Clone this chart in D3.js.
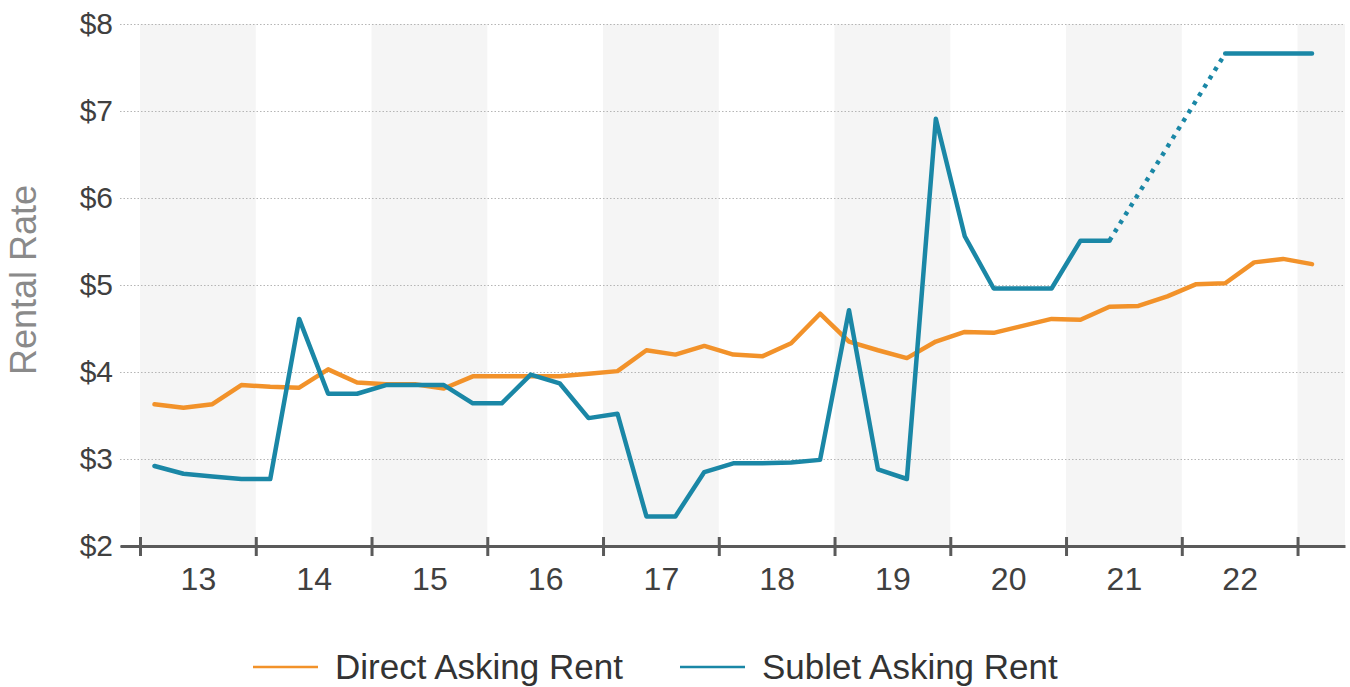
<!DOCTYPE html>
<html>
<head>
<meta charset="utf-8">
<script src="https://cdn.jsdelivr.net/npm/d3@7"></script>
<style>
	body { margin: 0; background: #fff; }
	svg { display: block; font-family: Arial, "Liberation Sans", sans-serif; }
</style>
</head>
<body>
<svg id="chart"></svg>
<script>
// quarterly data, 1Q13 .. 1Q23
var quarters = ["1Q13","2Q13","3Q13","4Q13","1Q14","2Q14","3Q14","4Q14","1Q15","2Q15","3Q15","4Q15",
	"1Q16","2Q16","3Q16","4Q16","1Q17","2Q17","3Q17","4Q17","1Q18","2Q18","3Q18","4Q18",
	"1Q19","2Q19","3Q19","4Q19","1Q20","2Q20","3Q20","4Q20","1Q21","2Q21","3Q21","4Q21",
	"1Q22","2Q22","3Q22","4Q22","1Q23"];

var directRent = [3.63, 3.59, 3.63, 3.85, 3.83, 3.82, 4.03, 3.88, 3.86, 3.86, 3.81, 3.95,
	3.95, 3.95, 3.95, 3.98, 4.01, 4.25, 4.20, 4.30, 4.20, 4.18, 4.33, 4.67,
	4.35, 4.25, 4.16, 4.35, 4.46, 4.45, 4.53, 4.61, 4.60, 4.75, 4.76, 4.87,
	5.01, 5.02, 5.26, 5.30, 5.24];

var subletRent = [2.92, 2.83, 2.80, 2.77, 2.77, 4.61, 3.75, 3.75, 3.85, 3.85, 3.85, 3.64,
	3.64, 3.97, 3.87, 3.47, 3.52, 2.34, 2.34, 2.85, 2.95, 2.95, 2.96, 2.99,
	4.71, 2.88, 2.77, 6.91, 5.56, 4.96, 4.96, 4.96, 5.51, 5.51, null, null,
	null, 7.66, 7.66, 7.66, 7.66];

var yearLabels = ["13","14","15","16","17","18","19","20","21","22"];
var yTicks = [2, 3, 4, 5, 6, 7, 8];

var series = [
	{name: "Direct Asking Rent", values: directRent, color: "#f2922a"},
	{name: "Sublet Asking Rent", values: subletRent, color: "#1a87a6"}
];

var W = 1350, H = 687,
	plotLeft = 120, plotRight = 1345, plotTop = 24, plotBottom = 546,
	firstYear = 2013;

var svg = d3.select("#chart").attr("width", W).attr("height", H);

// year-based x scale, data sits in the middle of each quarter
var x = d3.scaleLinear().domain([2012.827, 2023.41]).range([plotLeft, plotRight]),
	y = d3.scaleLinear().domain([2, 8]).range([plotBottom, plotTop]);

function qx(i) { return x(firstYear + (i + 0.5) / 4); }

// alternating year bands
var bandYears = d3.range(firstYear, firstYear + yearLabels.length + 1, 2);
svg.append("g").selectAll("rect")
	.data(bandYears)
	.enter().append("rect")
	.attr("x", function(d) { return x(d); })
	.attr("width", function(d) { return Math.min(x(d + 1), plotRight) - x(d); })
	.attr("y", plotTop)
	.attr("height", plotBottom - plotTop)
	.attr("fill", "#f5f5f5");

// y axis + dotted gridlines
var yAxis = svg.append("g")
	.attr("transform", "translate(" + plotLeft + ",0)")
	.call(d3.axisLeft(y)
		.tickValues(yTicks)
		.tickSize(-(plotRight - plotLeft))
		.tickPadding(7)
		.tickFormat(function(d) { return "$" + d; }));
yAxis.select(".domain").remove();
yAxis.selectAll(".tick line")
	.attr("stroke", "#b5b5b5")
	.attr("stroke-width", 1)
	.attr("stroke-dasharray", "1.5,2");
yAxis.selectAll(".tick text")
	.attr("fill", "#404040")
	.attr("font-size", 30);

svg.append("text")
	.attr("transform", "translate(36,280) rotate(-90)")
	.attr("text-anchor", "middle")
	.attr("fill", "#8a8a8a")
	.attr("font-size", 36)
	.text("Rental Rate");

// lines
var line = d3.line()
	.defined(function(d) { return d != null; })
	.x(function(d, i) { return qx(i); })
	.y(function(d) { return y(d); });

// dotted bridge over the sublet gap
var gapLine = d3.line()
	.x(function(d) { return qx(d.i); })
	.y(function(d) { return y(d.v); });
var subPts = subletRent.map(function(v, i) { return {i: i, v: v}; });
var firstGap = subletRent.indexOf(null),
	lastGap = subletRent.lastIndexOf(null);
svg.append("path")
	.attr("d", gapLine([subPts[firstGap - 1], subPts[lastGap + 1]]))
	.attr("fill", "none")
	.attr("stroke", series[1].color)
	.attr("stroke-width", 4.5)
	.attr("stroke-dasharray", "4,6");

svg.selectAll(".series")
	.data(series)
	.enter().append("path")
	.attr("class", "series")
	.attr("d", function(d) { return line(d.values); })
	.attr("fill", "none")
	.attr("stroke", function(d) { return d.color; })
	.attr("stroke-width", 4.5)
	.attr("stroke-linejoin", "round")
	.attr("stroke-linecap", "round");

// x axis: boundary ticks crossing the line
var yearTicks = d3.range(firstYear, firstYear + yearLabels.length + 1);
var xAxis = svg.append("g")
	.attr("transform", "translate(0," + plotBottom + ")")
	.call(d3.axisBottom(x).tickValues(yearTicks).tickSize(10).tickSizeOuter(0).tickFormat(""));
xAxis.select(".domain").attr("stroke", "#5a5a5a").attr("stroke-width", 3);
xAxis.selectAll(".tick line")
	.attr("y1", -9)
	.attr("stroke", "#5a5a5a")
	.attr("stroke-width", 3);

var midYears = yearLabels.map(function(d, i) { return firstYear + i + 0.5; });
var xLabels = svg.append("g")
	.attr("transform", "translate(0," + plotBottom + ")")
	.call(d3.axisBottom(x).tickValues(midYears).tickSize(0).tickPadding(21)
		.tickFormat(function(d, i) { return yearLabels[i]; }));
xLabels.select(".domain").remove();
xLabels.selectAll(".tick text")
	.attr("fill", "#404040")
	.attr("font-size", 32);

// legend
var legend = svg.append("g").attr("transform", "translate(0,667)");
var item = legend.selectAll("g")
	.data(series)
	.enter().append("g")
	.attr("transform", function(d, i) { return "translate(" + [253, 680][i] + ",0)"; });
item.append("line")
	.attr("x1", 0).attr("x2", 65)
	.attr("stroke", function(d) { return d.color; })
	.attr("stroke-width", 2.5);
item.append("text")
	.attr("x", 82)
	.attr("y", 12)
	.attr("fill", "#333")
	.attr("font-size", 35)
	.text(function(d) { return d.name; });
</script>
</body>
</html>
